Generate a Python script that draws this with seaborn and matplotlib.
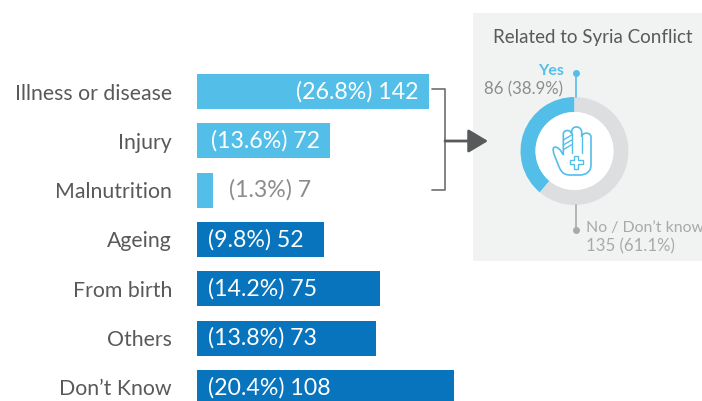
# -*- coding: utf-8 -*-
"""
Causes of disability, bars with a donut panel
"""

# import libraries
import seaborn as sns
import matplotlib.pyplot as plt
import pandas as pd
from matplotlib.patches import Rectangle, Circle, PathPatch, Polygon
from matplotlib.path import Path

# data
causes = ['Illness or disease', 'Injury', 'Malnutrition', 'Ageing',
          'From birth', 'Others', "Don\u2019t Know"]
counts = [142, 72, 7, 52, 75, 73, 108]
shares = [26.8, 13.6, 1.3, 9.8, 14.2, 13.8, 20.4]
# bar lengths as drawn in the source, they do not follow the counts
drawn_lengths = [232, 133, 16, 127, 183, 179, 257]
donut_labels = ['Yes', 'No / Don\u2019t know']
donut_counts = [86, 135]
donut_shares = [38.9, 61.1]

# colors
light_blue = '#53bfe9'
dark_blue = '#0774bd'
donut_grey = '#dcdee0'
panel_grey = '#f1f3f3'
text_grey = '#58595b'
label_grey = '#8a8c8e'
bar_colors = [light_blue] * 3 + [dark_blue] * 4

# set theme
sns.set_theme(style='white')
plt.rcParams['font.family'] = ['Lato', 'DejaVu Sans']

W, H = 702, 401
LEFT = 197
fig = plt.figure(figsize=(W / 100, H / 100), dpi=100)

# overlay in pixel coordinates for the panel
bg = fig.add_axes([0, 0, 1, 1], zorder=0)
bg.set_xlim(0, W)
bg.set_ylim(H, 0)
bg.axis('off')
bg.add_patch(Rectangle((473, 13), 229, 248, color=panel_grey, lw=0))

# bars
ax = fig.add_axes([LEFT / W, 0, (W - LEFT) / W, 1], zorder=1)
ax.patch.set_alpha(0)
df = pd.DataFrame({'cause': causes, 'length': drawn_lengths})
sns.barplot(data=df, x='length', y='cause', hue='cause', palette=bar_colors,
            legend=False, width=0.71, saturation=1, linewidth=0, ax=ax)
ax.set_xlim(0, W - LEFT)
ax.set_ylim((H - 91.5) / 49.33, -91.5 / 49.33)
ax.set(xlabel=None, ylabel=None, xticks=[])
sns.despine(ax=ax, left=True, bottom=True)
ax.tick_params(axis='y', length=0, pad=18, labelsize=15.3, labelcolor=text_grey)

# bar labels
for i, (n, s) in enumerate(zip(counts, shares)):
    txt = f'({s}%) {n}'
    if i < 2:
        ax.text(drawn_lengths[i] - 10, i, txt, ha='right', va='center',
                color='white', fontsize=16.7)
    elif i == 2:
        ax.text(32, i, txt, ha='left', va='center',
                color=label_grey, fontsize=16.7)
    else:
        ax.text(11, i, txt, ha='left', va='center',
                color='white', fontsize=16.7)

# bracket and arrow
fg = fig.add_axes([0, 0, 1, 1], zorder=3)
fg.set_xlim(0, W)
fg.set_ylim(H, 0)
fg.axis('off')
fg.plot([432, 445, 445, 432], [88.5, 88.5, 190, 190], color='#6d6e70', lw=1.2)
fg.annotate('', xy=(488, 141), xytext=(445, 141),
            arrowprops=dict(arrowstyle='-|>,head_length=1.0,head_width=0.6',
                            color='#58595b', lw=2, shrinkA=0, shrinkB=0))

# donut
R = 54
dax = fig.add_axes([(574.5 - R) / W, 1 - (151 + R) / H, 2 * R / W, 2 * R / H],
                   zorder=2)
dax.pie(donut_counts, colors=[light_blue, donut_grey], startangle=90,
        counterclock=True, radius=1, wedgeprops=dict(width=15 / 54, lw=0))
dax.set_xlim(-1, 1)
dax.set_ylim(-1, 1)
fg.add_patch(Circle((574.5, 151), 39, color='white', lw=0))

# donut leaders
fg.plot([575.5, 575.5], [72.5, 97], color=light_blue, lw=1.2)
fg.plot([575.5], [72.5], 'o', color=light_blue, ms=4)
fg.plot([575.5, 575.5], [205, 230], color='#a7a9ac', lw=1.2)
fg.plot([575.5], [230], 'o', color='#a7a9ac', ms=4)

# panel text
fg.text(593, 37, 'Related to Syria Conflict', ha='center', va='center',
        color=text_grey, fontsize=13.5)
fg.text(564, 71, donut_labels[0], ha='right', va='center', color=light_blue,
        fontsize=11.5, fontweight='bold')
fg.text(563, 89, f'{donut_counts[0]} ({donut_shares[0]}%)', ha='right',
        va='center', color=label_grey, fontsize=12.1)
fg.text(586, 228, donut_labels[1], ha='left', va='center', color='#a7a9ac',
        fontsize=11.4)
fg.text(586, 246, f'{donut_counts[1]} ({donut_shares[1]}%)', ha='left',
        va='center', color='#a7a9ac', fontsize=12.1)


# hand icon, points measured on a 180 unit crop of the icon
def ic(points):
    return [(545 + x / 3, 120 + y / 3) for x, y in points]


M, C4, L = Path.MOVETO, Path.CURVE4, Path.LINETO
outline = [(75, 165),
           (52, 165), (45, 150), (38, 130),
           (32, 115), (22, 95), (25, 85),
           (30, 76), (42, 85), (47, 92),
           (55, 105), (55, 42),
           (55, 28), (78, 28), (80, 42),
           (80, 35),
           (80, 16), (108, 16), (110, 35),
           (110, 50),
           (112, 36), (136, 36), (138, 50),
           (138, 135),
           (138, 155), (122, 165), (105, 165),
           (75, 165)]
outline_codes = [M, C4, C4, C4, C4, C4, C4, C4, C4, C4, L, L, C4, C4, C4, L,
                 C4, C4, C4, L, C4, C4, C4, L, C4, C4, C4, L]
fg.add_patch(PathPatch(Path(ic(outline), outline_codes), fc='none',
                       ec=light_blue, lw=1.2))
for seg in [[(80, 42), (80, 100)], [(110, 50), (110, 100)],
            [(55, 60), (80, 45)], [(55, 75), (80, 60)], [(57, 88), (80, 74)]]:
    xs, ys = zip(*ic(seg))
    fg.plot(xs, ys, color=light_blue, lw=1.0)
cross = [(87, 107), (100, 107), (100, 120), (113, 120), (113, 133), (100, 133),
         (100, 146), (87, 146), (87, 133), (74, 133), (74, 120), (87, 120)]
fg.add_patch(Polygon(ic(cross), closed=True, fc='white', ec=light_blue, lw=1.0,
                     zorder=4))

fig.savefig('out.png', dpi=100)
